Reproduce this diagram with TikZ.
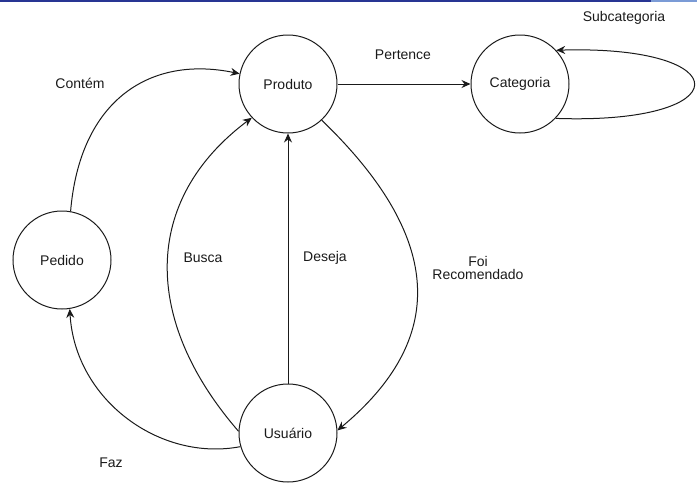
\documentclass[tikz,border=0pt]{standalone}
\usepackage{fontspec}
\setmainfont{Liberation Sans}
\usetikzlibrary{arrows.meta}
\definecolor{barblue}{HTML}{283593}
\definecolor{barlight}{HTML}{7B9BD6}
\definecolor{ink}{HTML}{1A1A1A}
\begin{document}
\begin{tikzpicture}[x=1pt,y=-1pt,
  state/.style={circle,draw=ink,line width=1pt,minimum size=98pt,inner sep=0pt,font=\fontsize{14}{16}\selectfont,text=ink},
  lbl/.style={font=\fontsize{14}{16}\selectfont,text=ink,align=center},
  conn/.style={draw=ink,line width=1pt,-{Stealth[length=9pt,width=8pt,inset=3pt]}}]
\useasboundingbox (0,0) rectangle (697,501);
\fill[barblue] (0,0) rectangle (651,1.6);
\fill[barlight] (651,0) rectangle (697,1.6);
\node[state] (pr) at (288,84) {Produto};
\node[state] (ca) at (520,84) {Categoria};
\node[state] (pe) at (62,260) {Pedido};
\node[state] (us) at (288,433) {Usuário};
% edges
\draw[conn] (pe.80) .. controls (80,100) and (150,55) .. (pr.168);
\draw[conn] (pr.east) -- (ca.west);
\draw[conn] (ca.-44) .. controls (740,125) and (740,45) .. (ca.43);
\draw[conn] (us.196) .. controls (160,462) and (75,400) .. (pe.-81);
\draw[conn] (us.178) .. controls (142,320) and (142,200) .. (pr.223);
\draw[conn] (us.north) -- (pr.south);
\draw[conn] (pr.-47) .. controls (446,240) and (446,340) .. (us.3);
% labels
\node[lbl] (lcontem) at (80,83) {Contém};
\node[lbl] (lpert) at (403,55) {Pertence};
\node[lbl] (lsub) at (624,18) {Subcategoria};
\node[lbl] (lfaz) at (111,463) {Faz};
\node[lbl] (lbusca) at (203,258) {Busca};
\node[lbl] (ldeseja) at (325,258) {Deseja};
\node[lbl] (lfoi) at (478,268) {Foi\\[-3pt]Recomendado};
\end{tikzpicture}
\end{document}
